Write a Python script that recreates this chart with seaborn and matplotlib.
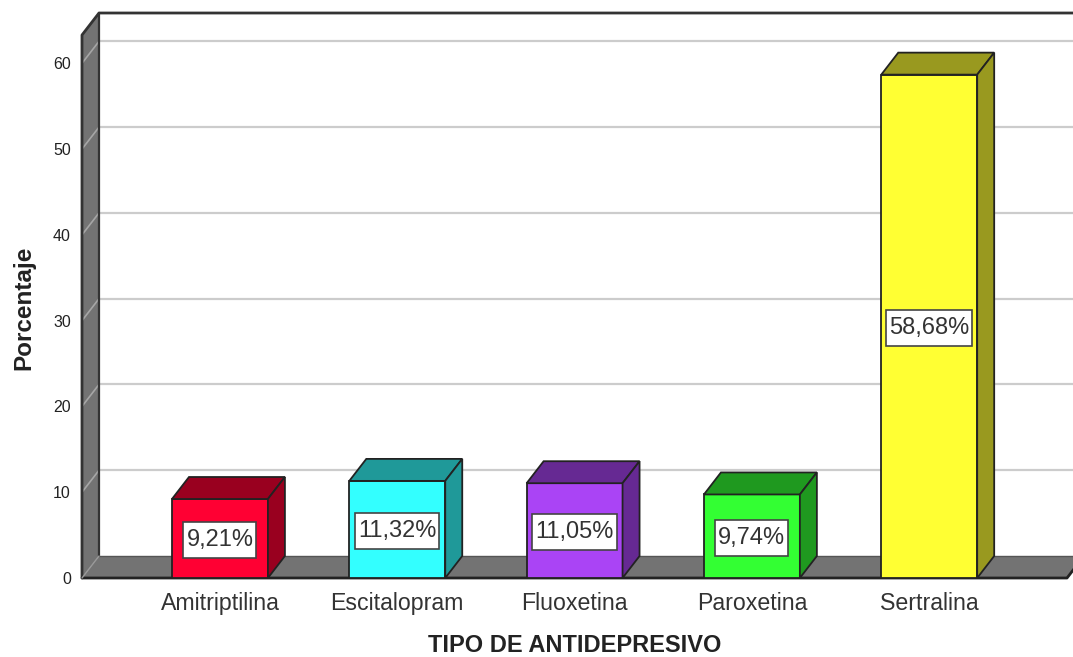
import matplotlib
matplotlib.use('Agg')
import matplotlib.pyplot as plt
import matplotlib.colors as mcolors
from matplotlib.patches import Rectangle
from matplotlib.transforms import IdentityTransform
import pandas as pd
import seaborn as sns

farmacos = ['Amitriptilina', 'Escitalopram', 'Fluoxetina', 'Paroxetina', 'Sertralina']
porcentajes = [9.21, 11.32, 11.05, 9.74, 58.68]
etiquetas = ['9,21%', '11,32%', '11,05%', '9,74%', '58,68%']
colores = ['#FF0033', '#33FFFF', '#AA44F5', '#33FF33', '#FFFF33']
marcas_y = [0, 10, 20, 30, 40, 50, 60]

sns.set_style('white')
plt.rcParams['font.family'] = ['Liberation Sans', 'DejaVu Sans']

data = pd.DataFrame({'Tipo': farmacos, 'Porcentaje': porcentajes})

fig = plt.figure(figsize=(10.73, 6.57), dpi=100)
ax = fig.add_axes([82 / 1073, 79 / 657, 985 / 1073, 543 / 657])

sns.barplot(x='Tipo', y='Porcentaje', hue='Tipo', data=data, palette=colores,
            saturation=1, width=0.541, legend=False, ax=ax,
            edgecolor='#222222', linewidth=1.3, zorder=3)

x_min, x_max = -0.778, 4.777
y_max = 63.3
ax.set_xlim(x_min, x_max)
ax.set_ylim(0, y_max)

# profundidad del efecto 3D (en unidades de datos)
dx = 17 / 177.3
dy = 22 / 8.58
gris = '#737373'
borde = '#222222'


def oscuro(color):
    r, g, b = mcolors.to_rgb(color)
    return (r * 0.6, g * 0.6, b * 0.6)


# paredes
ax.fill([x_min, x_min + dx, x_min + dx, x_min], [0, dy, y_max + dy, y_max],
        facecolor=gris, edgecolor='none', zorder=1, clip_on=False)
ax.fill([x_min, x_min + dx, x_max + dx, x_max], [0, dy, dy, 0],
        facecolor=gris, edgecolor='none', zorder=1, clip_on=False)

for v in marcas_y[1:]:
    ax.plot([x_min + dx, x_max + dx], [v + dy, v + dy], color='#CCCCCC', lw=1.6, zorder=0.5, clip_on=False)
    ax.plot([x_min, x_min + dx], [v, v + dy], color='#A6A6A6', lw=1.2, zorder=1.5, clip_on=False)

ax.plot([x_min, x_min, x_min + dx, x_max + dx], [0, y_max, y_max + dy, y_max + dy], color='#333333', lw=2, zorder=2, clip_on=False)
ax.plot([x_min + dx, x_min + dx], [dy, y_max + dy], color='#333333', lw=1.6, zorder=2, clip_on=False)
ax.plot([x_min + dx, x_max + dx], [dy, dy], color='#555555', lw=1, zorder=2, clip_on=False)
ax.plot([x_min, x_max, x_max + dx], [0, 0, dy], color='#222222', lw=2, zorder=2, clip_on=False)
ax.plot([x_min, x_min + dx], [0, dy], color='#999999', lw=1, zorder=2, clip_on=False)

# caras superior y lateral de cada barra
textos = []
for barra, color, texto in zip(ax.patches, colores, etiquetas):
    x0 = barra.get_x()
    x1 = x0 + barra.get_width()
    h = barra.get_height()
    ax.fill([x0, x0 + dx, x1 + dx, x1], [h, h + dy, h + dy, h],
            facecolor=oscuro(color), edgecolor=borde, lw=1.3, zorder=3, clip_on=False)
    ax.fill([x1, x1 + dx, x1 + dx, x1], [0, dy, h + dy, h],
            facecolor=oscuro(color), edgecolor=borde, lw=1.3, zorder=3, clip_on=False)
    textos.append(ax.annotate(texto, (( x0 + x1) / 2, h / 2), xytext=(0, -1.2),
                              textcoords='offset points', ha='center', va='center',
                              fontsize=17, color='#333333', zorder=5))

# recuadro blanco de cada etiqueta, mas alto que el texto
render = fig.canvas.get_renderer()
for t in textos:
    caja = t.get_window_extent(render)
    centro = (caja.y0 + caja.y1) / 2
    ax.add_patch(Rectangle((caja.x0 - 3, centro - 18), caja.width + 6, 36,
                           facecolor='white', edgecolor='#444444', lw=1.2, zorder=4,
                           transform=IdentityTransform(), clip_on=False))

sns.despine(ax=ax, left=True, bottom=True, top=True, right=True)
ax.set_yticks(marcas_y)
ax.tick_params(axis='y', length=0, pad=8, labelsize=11.5, labelcolor='#222222')
ax.tick_params(axis='x', length=0, pad=10, labelsize=16.7, labelcolor='#333333')
ax.set_xlabel('TIPO DE ANTIDEPRESIVO', fontsize=17, fontweight='bold', color='#222222', va='center')
ax.xaxis.set_label_coords(0.5, -0.1234)
ax.set_ylabel('Porcentaje', fontsize=17.5, fontweight='bold', color='#222222', va='center')
ax.yaxis.set_label_coords(-0.0595, 0.498)

plt.savefig('out.png', dpi=100)
